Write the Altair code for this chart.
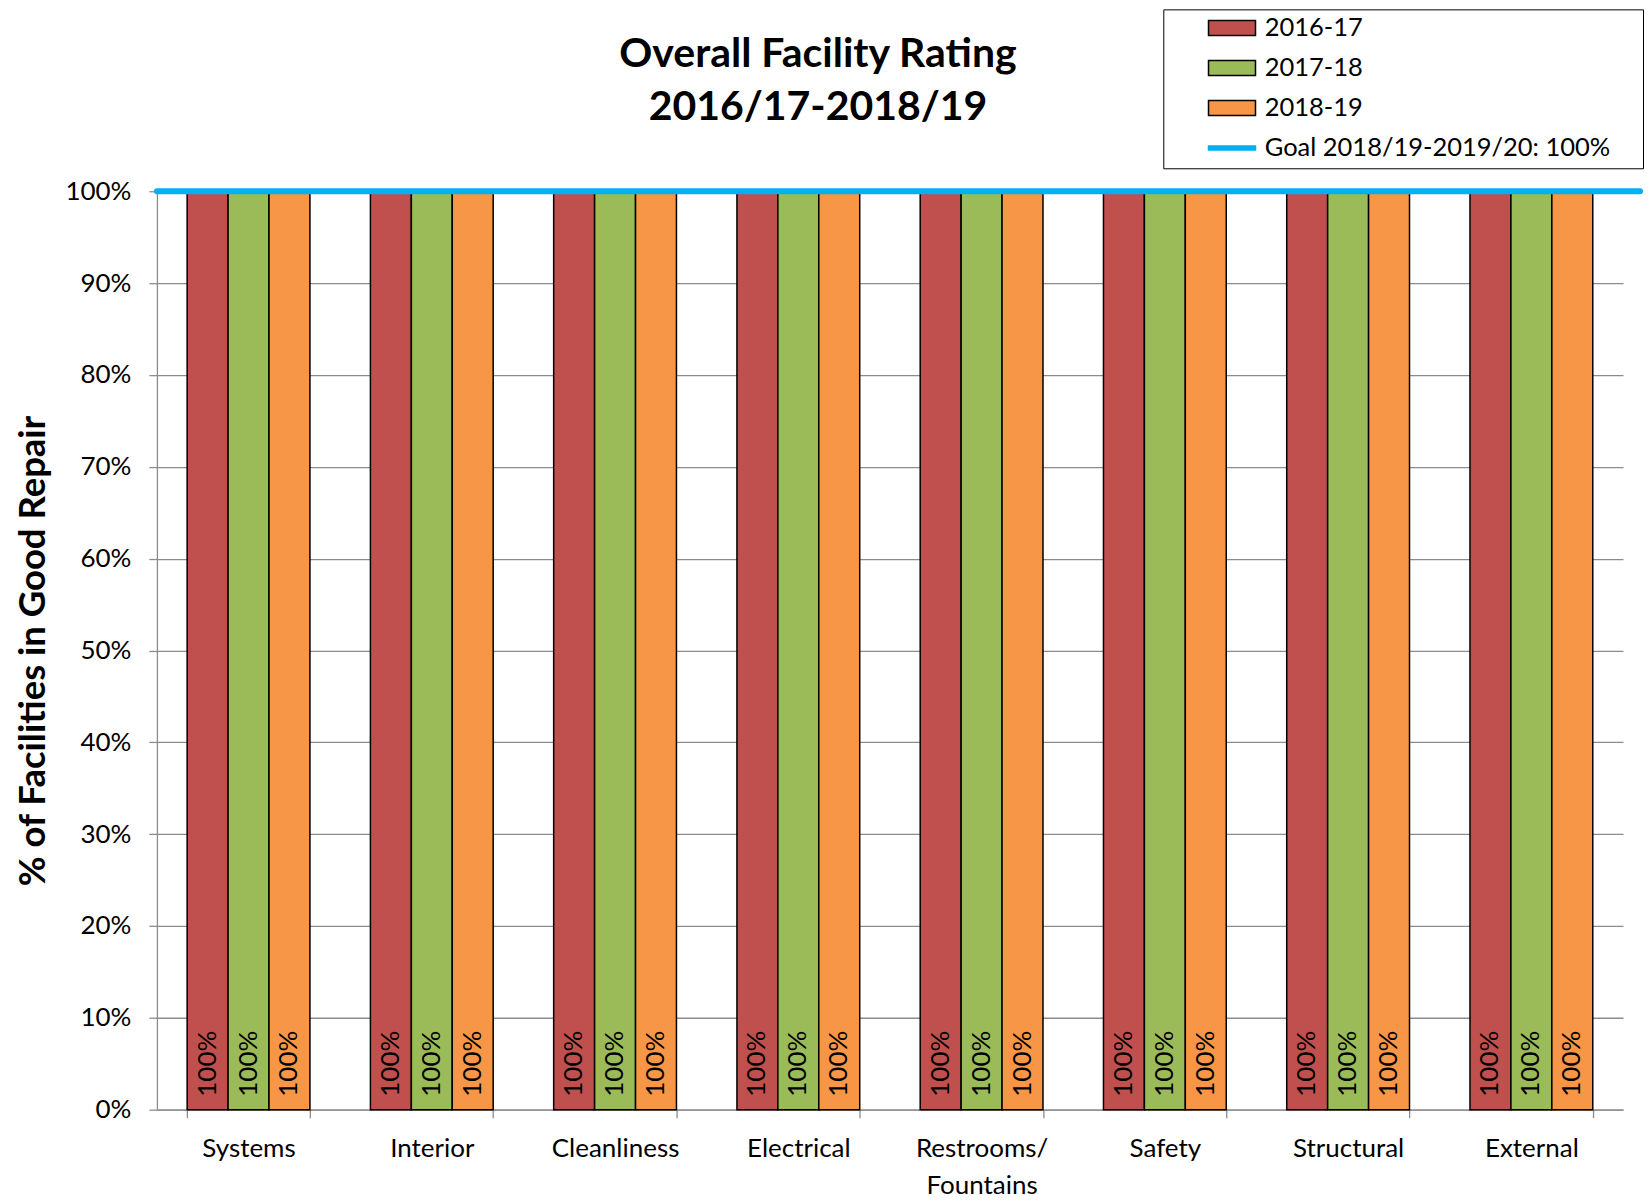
import altair as alt
import pandas as pd

# ---- data ----
categories = ["Systems", "Interior", "Cleanliness", "Electrical",
              "Restrooms/ Fountains", "Safety", "Structural", "External"]
series_names = ["2016-17", "2017-18", "2018-19"]
values_2016_17 = [1.00, 1.00, 1.00, 1.00, 1.00, 1.00, 1.00, 1.00]
values_2017_18 = [1.00, 1.00, 1.00, 1.00, 1.00, 1.00, 1.00, 1.00]
values_2018_19 = [1.00, 1.00, 1.00, 1.00, 1.00, 1.00, 1.00, 1.00]
goal_label = "Goal 2018/19-2019/20: 100%"
goal_value = [1.00]
y_ticks = [0.0, 0.1, 0.2, 0.3, 0.4, 0.5, 0.6, 0.7, 0.8, 0.9, 1.0]
title_lines = ["Overall Facility Rating", "2016/17-2018/19"]
y_title = "% of Facilities in Good Repair"

series_colors = ["#C0504D", "#9BBB59", "#F79646"]
goal_color = "#00B0F0"

rows = []
for s, vals in zip(series_names, [values_2016_17, values_2017_18, values_2018_19]):
    for c, v in zip(categories, vals):
        rows.append({"category": c, "series": s, "value": v})
bars_df = pd.DataFrame(rows)
goal_df = pd.DataFrame({"series": [goal_label], "value": goal_value})

W, H = 1467, 919
FONT = "Lato"
GRID = "#8c8c8c"
FS = 26

color_scale = alt.Scale(domain=series_names + [goal_label],
                        range=series_colors + [goal_color])

is_goal = f"datum.value === '{goal_label}'"
rect_path = "M-2.35,-0.75H2.35V0.75H-2.35Z"
line_path = "M-2.35,-0.2H2.35V0.2H-2.35Z"
pad_right = "\u00a0" * 4 + "\u200b"

legend = alt.Legend(
    title=None, orient="none", legendX=1007, legendY=-182,
    padding=6, rowPadding=13, symbolSize=400, symbolStrokeWidth=1.5,
    symbolOffset=50, labelOffset=20, labelFont=FONT, labelFontSize=25.5,
    labelLimit=700, labelColor="black", strokeColor="black", fillColor="white",
    labelExpr=f"datum.label + '{pad_right}'",
    symbolType=alt.ExprRef(expr=f"{is_goal} ? '{line_path}' : '{rect_path}'"),
    symbolStrokeColor=alt.ExprRef(expr=f"{is_goal} ? '{goal_color}' : 'black'"),
    symbolOpacity=1,
)

x_enc = alt.X(
    "category:N", sort=categories,
    scale=alt.Scale(paddingInner=0.33, paddingOuter=0.165),
    axis=alt.Axis(
        title=None, labelAngle=0, tickBand="extent", ticks=True, tickSize=8,
        tickColor=GRID, tickWidth=1.3, domainColor=GRID, domainWidth=1.3,
        labelPadding=18, labelFont=FONT, labelFontSize=FS, labelColor="black",
        labelLineHeight=37, grid=False,
        labelExpr="datum.label == 'Restrooms/ Fountains' ? ['Restrooms/', 'Fountains'] : datum.label",
    ),
)
xoff_enc = alt.XOffset("series:N", sort=series_names,
                       scale=alt.Scale(domain=series_names))
y_scale = alt.Scale(domain=[0, 1], nice=False)
y_axis = alt.Axis(
    values=y_ticks, format=".0%", grid=True, gridColor=GRID, gridWidth=1.3,
    domainColor=GRID, domainWidth=1.3, tickColor=GRID, tickWidth=1.3, tickSize=8,
    labelPadding=18, labelFont=FONT, labelFontSize=FS, labelColor="black",
    title=y_title, titleFont=FONT, titleFontSize=36.5, titleFontWeight="bold",
    titleColor="black", titlePadding=12,
)

bars = alt.Chart(bars_df).mark_bar(stroke="black", strokeWidth=1.5).encode(
    x=x_enc,
    xOffset=xoff_enc,
    y=alt.Y("value:Q", scale=y_scale, axis=y_axis),
    color=alt.Color("series:N", scale=color_scale, legend=legend),
)

labels = alt.Chart(bars_df).mark_text(
    angle=270, align="left", baseline="middle", dx=13,
    font=FONT, fontSize=FS, color="black",
).encode(
    x=alt.X("category:N", sort=categories),
    xOffset=xoff_enc,
    y=alt.datum(0),
    text=alt.Text("value:Q", format=".0%"),
)

goal = alt.Chart(goal_df).mark_rule(
    strokeWidth=6, strokeCap="round", color=goal_color
).encode(
    y=alt.Y("value:Q"),
    x=alt.value(0),
    x2=alt.value(W + 17),
)

chart = alt.layer(bars, labels, goal).properties(
    width=W, height=H,
    padding={"left": 7, "top": 0, "right": 0, "bottom": 0},
    title=alt.TitleParams(
        text=title_lines, font=FONT, fontSize=41, fontWeight="bold",
        color="black", anchor="middle", frame="group", dx=-72,
        offset=-120, lineHeight=53,
    ),
).configure_view(strokeWidth=0)

chart.save("out.html", embed_options={"renderer": "svg", "actions": False})
